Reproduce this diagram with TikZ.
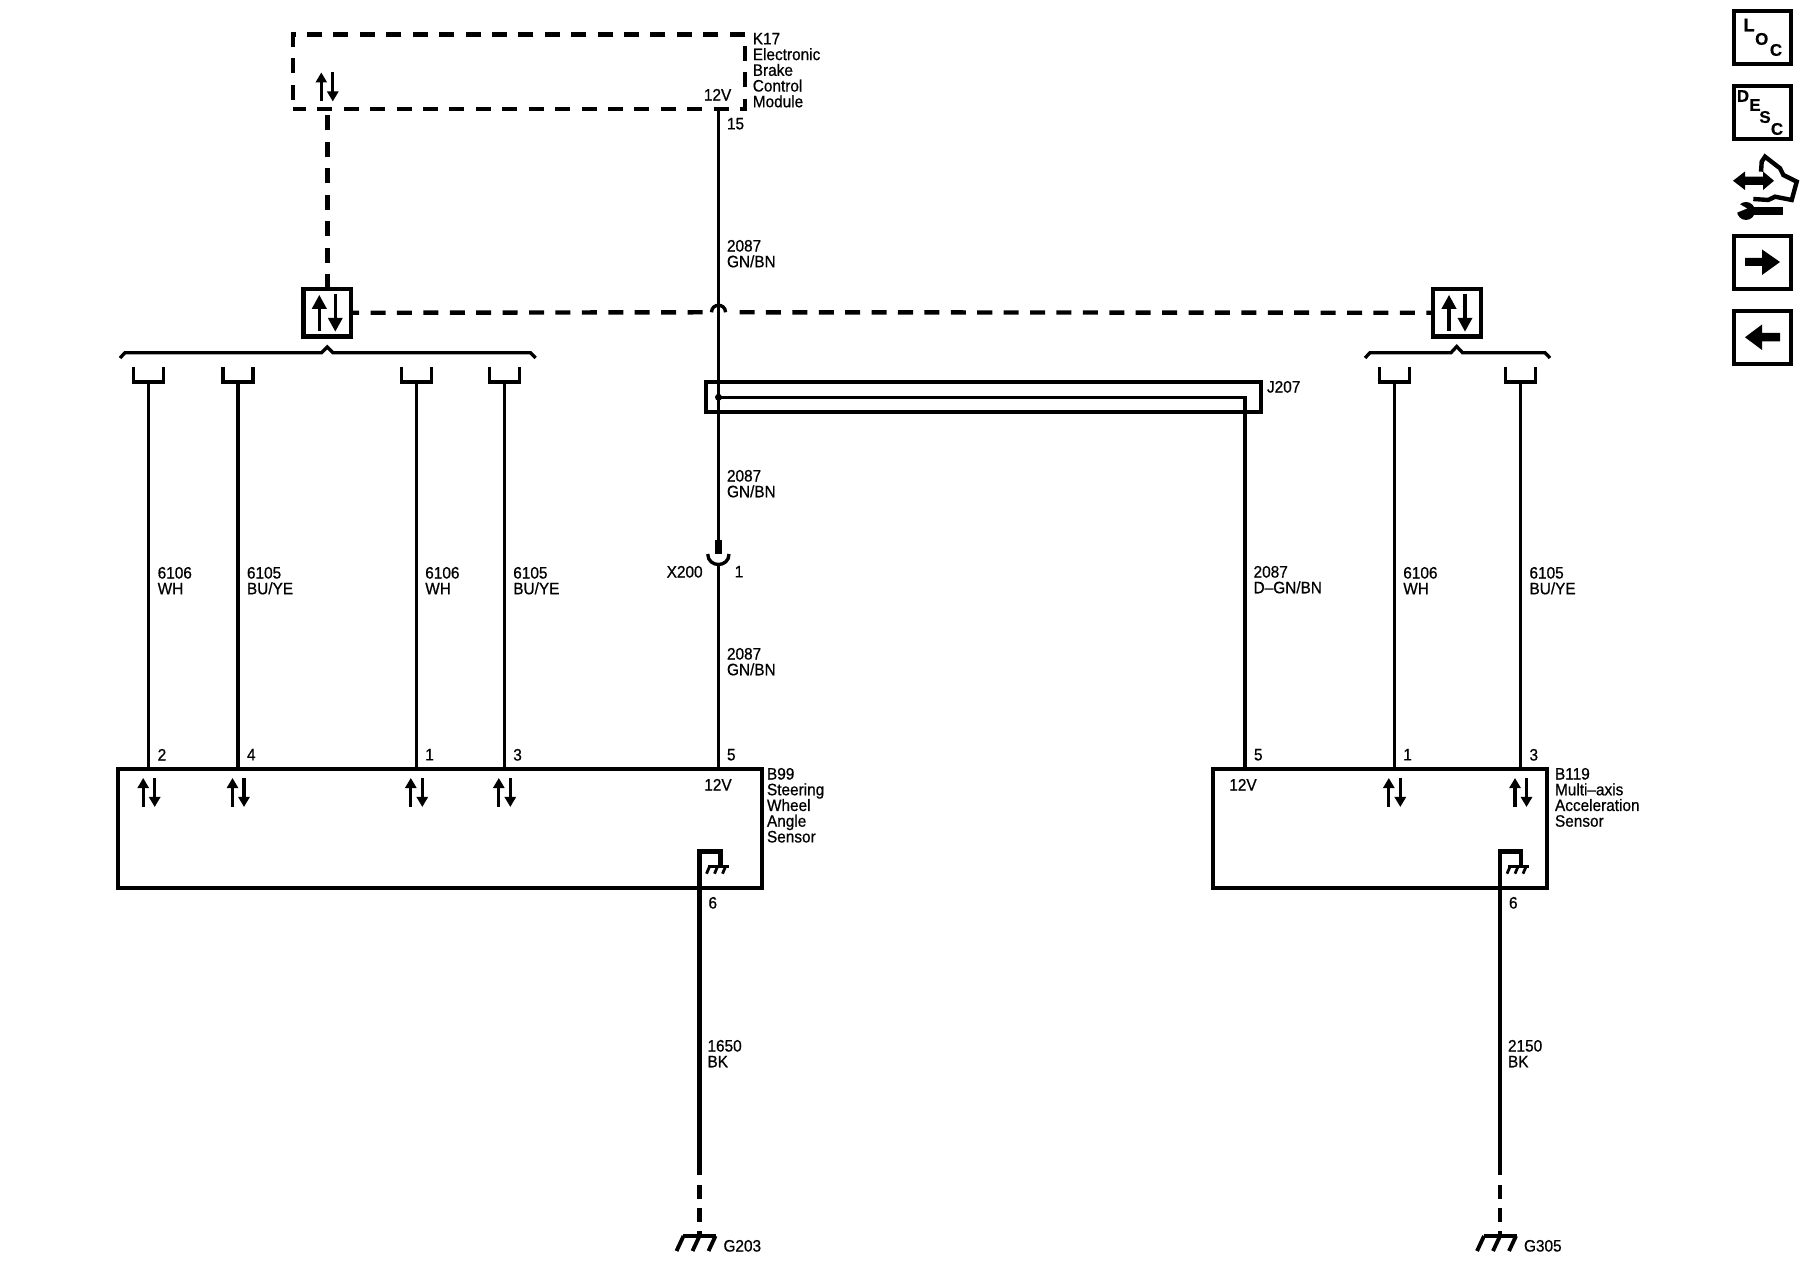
\documentclass[tikz,border=0pt]{standalone}
\usepackage{fontspec}
\setmainfont{Liberation Sans}[FakeStretch=0.93,FakeBold=0.7]
\newfontfamily\iconfont{Liberation Sans Bold}[FakeBold=0.6]
\usetikzlibrary{arrows.meta}

\tikzset{
  wire/.style={line width=0.95pt},
  heavy/.style={line width=1.4pt},
  lbl/.style={inner sep=0,outer sep=0,anchor=north west,align=left,
    font=\fontsize{4.7pt}{4.47pt}\selectfont},
  modbox/.style={draw,line width=1.1pt,inner sep=0,outer sep=0,anchor=north west},
  sigbox/.style={draw,line width=1.3pt,inner sep=0,outer sep=0,
    minimum width=1.4cm*0.34,minimum height=1.4cm*0.34},
  iconbox/.style={draw,line width=1.1pt,inner sep=0,outer sep=0,
    minimum width=0.565cm,minimum height=0.535cm},
  dashline/.style={line width=1.25pt,dash pattern=on 0.15cm off 0.114cm},
  small/.tip={Triangle[length=0.1cm,width=0.11cm]},
  large/.tip={Triangle[length=0.14cm,width=0.14cm]},
  updown/.pic={
    \draw[wire,-small] (-5.5,15) -- (-5.5,-14);
    \draw[wire,-small] (6,-14) -- (6,15);
  },
  bigupdown/.pic={
    \draw[line width=1pt,-large] (-8,18) -- (-8,-18);
    \draw[line width=1pt,-large] (8,-19) -- (8,19);
  },
  gndbig/.pic={
    \draw[wire] (-16.5,0) -- (16.5,0);
    \foreach \tx in {-16,0,16} \draw[line width=1.1pt] (\tx,0) -- (\tx-7,15);
  },
  gndsmall/.pic={
    \draw[wire] (-11,0) -- (10,0);
    \foreach \tx in {-9,-1,7} \draw[line width=0.8pt] (\tx,0) -- (\tx-3,7);
  }
}

\begin{document}
\begin{tikzpicture}[x=0.01cm,y=-0.01cm]
  \useasboundingbox (0,0) rectangle (1800,1280);

  % modules
  \node[modbox,dash pattern=on 0.15cm off 0.114cm,dash phase=0.02cm,line width=1.25pt,
    minimum width=4.517cm,minimum height=0.74cm] (k17) at (293,34.7) {};
  \node[modbox,minimum width=6.432cm,minimum height=1.19cm] (b99) at (118.4,769.3) {};
  \node[modbox,minimum width=3.334cm,minimum height=1.19cm] (b119) at (1213.3,769.3) {};
  \node[modbox,minimum width=5.547cm,minimum height=0.3cm] (j207) at (706,381.7) {};
  \node[sigbox] (lbox) at (327.3,312.8) {};
  \node[sigbox] (rbox) at (1457,312.8) {};
  \pic at (lbox.center) {bigupdown};
  \pic at (rbox.center) {bigupdown};
  \pic at (326.8,86.5) {updown};

  % module texts
  \node[lbl] (k17txt) at (752.8,33) {K17\\Electronic\\Brake\\Control\\Module};
  \node[lbl] (b99txt) at (767,768) {B99\\Steering\\Wheel\\Angle\\Sensor};
  \node[lbl] (b119txt) at (1555,768) {B119\\Multi--axis\\Acceleration\\Sensor};
  \node[lbl] (j207txt) at (1267,381) {J207};
  \node[lbl,anchor=north] (k17v) at (717.6,89) {12V};
  \node[lbl,anchor=north] (b99v) at (718,779) {12V};
  \node[lbl,anchor=north] (b119v) at (1243,779) {12V};

  % signal wires
  \foreach \name/\wx/\pinnum/\wtxt/\modname in {
    wa/148.7/2/{6106\\WH}/b99,
    wb/238/4/{6105\\BU/YE}/b99,
    wc/416.3/1/{6106\\WH}/b99,
    wd/504.3/3/{6105\\BU/YE}/b99,
    we/1394.3/1/{6106\\WH}/b119,
    wf/1520.5/3/{6105\\BU/YE}/b119}{
    \draw[wire] (\wx-15,367) |- (\wx+15,382) -- (\wx+15,367);
    \coordinate (\name) at (\wx,382);
    \draw[wire] (\name) -- (\name |- \modname.north);
    \pic at (\wx,792) {updown};
    \node[lbl] (\name-pin) at (\wx+9,749) {\pinnum};
    \node[lbl] (\name-txt) at (\wx+9,567) {\wtxt};
  }

  % braces
  \draw[wire] (120,358) -- (125,352.7) -- (321.5,352.7) -- (327.3,347)
    -- (333,352.7) -- (530.5,352.7) -- (535.6,358);
  \draw[wire] (1365,358) -- (1370,352.7) -- (1451,352.7) -- (1456.7,346.5)
    -- (1462.5,352.7) -- (1545,352.7) -- (1550,358);

  % serial data
  \coordinate (hl) at (711.5,312.3);
  \coordinate (hr) at (725.5,312.3);
  \coordinate (gapl) at (704,312.3);
  \coordinate (gapr) at (739.5,312.3);
  \draw[dashline] (lbox.north) -- (lbox.north |- k17.south);
  \draw[dashline,dash phase=0.07cm] (lbox.east) -- (gapl);
  \draw[dashline] (gapr) -- (rbox.west);
  \draw[wire] (hl) .. controls (711.5,303) and (725.5,303) .. (hr);

  % power
  \coordinate (vk17) at (718.5,108.7);
  \coordinate (vdot) at (718.5,397.3);
  \coordinate (x200a) at (718.5,554);
  \coordinate (x200b) at (718.5,564);
  \draw[wire] (vk17) -- (x200a);
  \draw[line width=1.9pt] (718.5,540) -- (x200a);
  \draw[wire] (707.7,554) .. controls (708,568) and (729,568) .. (729,554);
  \draw[wire] (x200b) -- (x200b |- b99.north);
  \fill (vdot) circle (3.5);
  \draw[wire] (vdot) -| (1245,769.3);
  \node[lbl] (p15) at (727,118) {15};
  \node[lbl] (lb1) at (727,240) {2087\\GN/BN};
  \node[lbl] (lb2) at (727,470) {2087\\GN/BN};
  \node[lbl] (lb3) at (727,648) {2087\\GN/BN};
  \node[lbl] (lb4) at (1253.6,566) {2087\\D--GN/BN};
  \node[lbl,anchor=north east] (x200) at (702.6,566) {X200};
  \node[lbl] (x200p) at (734.7,566) {1};
  \node[lbl] (p5a) at (727,749) {5};
  \node[lbl] (p5b) at (1254,749) {5};

  % grounds
  \foreach \name/\gx/\wtxt/\gtxt in {ga/699.5/{1650\\BK}/G203,gb/1500/{2150\\BK}/G305}{
    \coordinate (\name) at (\gx,1236);
    \draw[heavy] (\gx+21,866.7) |- (\gx,851.7) -- (\gx,1175);
    \draw[heavy,dash pattern=on 0.14cm off 0.09cm] (\gx,1185) -- (\name);
    \pic at (\gx+19,866.7) {gndsmall};
    \pic at (\name) {gndbig};
    \node[lbl] (\name-pin) at (\gx+9,897) {6};
    \node[lbl] (\name-txt) at (\gx+8,1040) {\wtxt};
    \node[lbl] (\name-gnd) at (\gx+24,1240) {\gtxt};
  }

  % side icons
  \node[iconbox,anchor=north west] (loc) at (1734.3,10.7) {};
  \node[iconbox,anchor=north west] (desc) at (1734.3,85.7) {};
  \node[iconbox,anchor=north west] (nextic) at (1734.3,235.7) {};
  \node[iconbox,anchor=north west] (previc) at (1734.3,310.7) {};
  \foreach \ltr/\lx/\ly/\fs in {L/1749/25/5.2,O/1761.7/39/4.8,C/1776/50/4.8,
    D/1743/96/4.8,E/1755/105/4.8,S/1765/117/4.8,C/1777/129/4.8}
    \node[inner sep=0] at (\lx,\ly) {\iconfont\fontsize{\fs pt}{\fs pt}\selectfont\ltr};
  \fill (1745,258) -- (1762,258) -- (1762,249.5) -- (1780,262) -- (1762,275)
    -- (1762,266) -- (1745,266) -- cycle;
  \fill (1780,333) -- (1762,333) -- (1762,324.5) -- (1745,337.3) -- (1762,350)
    -- (1762,341.5) -- (1780,341.5) -- cycle;
  \fill (1733,180.8) -- (1745,171.5) -- (1745,176.7) -- (1763,176.7) -- (1763,171.5)
    -- (1774,180.8) -- (1763,190) -- (1763,185) -- (1745,185) -- (1745,190) -- cycle;
  \draw[line width=1.25pt] (1753.3,199) -- (1768.3,200) -- (1775,196.7) -- (1791.7,200) -- (1796.7,181.7)
    -- (1783.3,175) -- (1780,168.3) -- (1765,156.7) -- (1761.7,161.7) -- (1761,171.7);
  \fill (1746,211) circle (9);
  \fill (1748,206.7) rectangle (1782.7,215);
  \fill[white] (1736,202) -- (1747,208.5) -- (1736,213) -- cycle;
\end{tikzpicture}
\end{document}
